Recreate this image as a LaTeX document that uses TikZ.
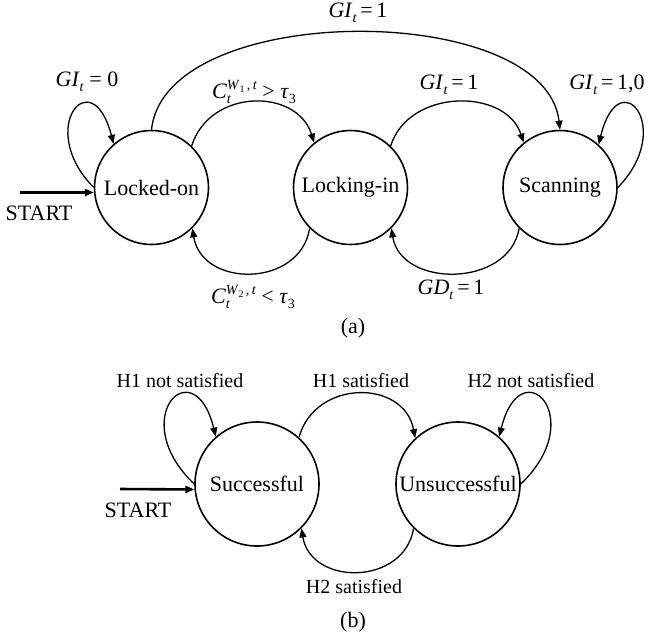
\documentclass[tikz,border=0pt]{standalone}
\usepackage{fontspec}
\setmainfont{Liberation Serif}
\usetikzlibrary{arrows.meta}
\newcommand\sbs[1]{\raisebox{-5pt}{\fontsize{14}{14}\selectfont #1}}
\newcommand\sps[1]{\raisebox{9pt}{\fontsize{14}{14}\selectfont #1}}
\newcommand\GIt{\textit{GI}\sbs{\textit{t}}}
\newcommand\GDt{\textit{GD}\sbs{\textit{t}}}
\newcommand\Cwt[1]{\textit{C}\rlap{\sbs{\textit{t}}}\sps{\textit{W}\raisebox{-2.5pt}{\fontsize{10}{10}\selectfont #1}\,,\,\textit{t}}}
\newcommand\tauth{\textit{τ}\sbs{3}}
\begin{document}
\begin{tikzpicture}[x=1pt,y=-1pt,
  stnode/.style={draw, circle, line width=1.6pt, inner sep=0pt, font=\fontsize{22}{26}\selectfont},
  sa/.style={stnode, minimum size=114pt},
  sb/.style={stnode, minimum size=124pt},
  lbl/.style={font=\fontsize{22}{26}\selectfont, inner sep=0pt},
  hl/.style={font=\fontsize{20}{24}\selectfont, inner sep=0pt},
  conn/.style={line width=1.3pt, -{Triangle[length=9pt,width=7pt]}},
  startarrow/.style={line width=2.6pt, -{Triangle[length=9pt,width=7pt]}}]
\useasboundingbox (0,0) rectangle (652,637);

% ---------- (a) ----------
\node[sa] (lo) at (151.5,187.5) {Locked-on};
\node[sa] (li) at (350.5,187.5) {Locking-in};
\node[sa] (sc) at (560,187.5) {Scanning};

\draw[conn] (lo.180) .. controls (35,128) and (92,60) .. (lo.131);
\draw[conn] (lo.90) .. controls (165,0) and (545,0) .. (sc.90);
\draw[conn] (lo.46) .. controls (210,88) and (297,88) .. (li.129);
\draw[conn] (li.46) .. controls (409,88) and (506,88) .. (sc.129);
\draw[conn] (sc.0) .. controls (676,128) and (619,60) .. (sc.48);
\draw[conn] (li.225) .. controls (300,288) and (202,288) .. (lo.315);
\draw[conn] (sc.225) .. controls (509,288) and (401,288) .. (li.315);
\coordinate (sta) at (20,192.5);
\draw[startarrow] (sta) -- (lo.185);

\node[lbl] (lgitop) at (358,13) {\GIt\,=\,1};
\node[lbl] (lgi0) at (87,82) {\GIt\ = 0};
\node[lbl] (lc1) at (254,92) {\Cwt{1}\ > \tauth};
\node[lbl] (lgimid) at (449,85) {\GIt\,=\,1};
\node[lbl] (lgi10) at (607,85) {\GIt\,=\,1,0};
\node[lbl] (lc2) at (253,297) {\Cwt{2}\ < \tauth};
\node[lbl] (lgd) at (451,290) {\GDt\,=\,1};
\node[lbl] (starta) at (39,213) {START};
\node[lbl] (capa) at (353,328) {(a)};

% ---------- (b) ----------
\node[sb] (su) at (257,484) {Successful};
\node[sb] (un) at (458,484) {Unsuccessful};

\draw[conn] (su.180) .. controls (125,418) and (194,348) .. (su.131);
\draw[conn] (un.0) .. controls (590,418) and (521,348) .. (un.49);
\draw[conn] (su.48) .. controls (315,379) and (404,379) .. (un.133);
\draw[conn] (un.225) .. controls (404,586) and (311,586) .. (su.315);
\coordinate (stb) at (120,489);
\draw[startarrow] (stb) -- (su.185);

\node[hl] (h1n) at (180,381) {H1 not satisfied};
\node[hl] (h1s) at (361,381) {H1 satisfied};
\node[hl] (h2n) at (531,381) {H2 not satisfied};
\node[hl] (h2s) at (354,587) {H2 satisfied};
\node[lbl] (startb) at (138,510) {START};
\node[lbl] (capb) at (353,622) {(b)};
\end{tikzpicture}
\end{document}
